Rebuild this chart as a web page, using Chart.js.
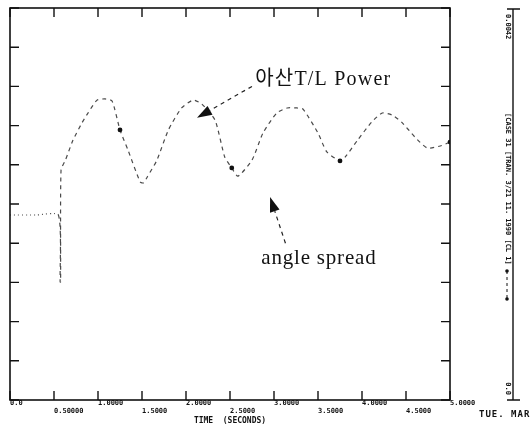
<!DOCTYPE html>
<html>
<head>
<meta charset="utf-8">
<script src="https://cdn.jsdelivr.net/npm/chart.js@4.4.1/dist/chart.umd.min.js"></script>
<style>
  html, body { margin: 0; padding: 0; background: #fff; }
  #wrap { width: 532px; height: 425px; }
</style>
</head>
<body>
<div id="wrap"><canvas id="simChart" width="532" height="425"></canvas></div>
<script>
// values (y in axis divisions, 0..10)
const timeSec = [0, 0.30, 0.55, 0.57, 0.575, 0.58, 0.63, 0.716, 0.818, 0.886, 0.989, 1.08, 1.16, 1.25, 1.34, 1.48, 1.52, 1.56, 1.67, 1.80, 1.95, 2.08, 2.18, 2.33, 2.44, 2.52, 2.59, 2.75, 2.875, 3.03, 3.15, 3.26, 3.33, 3.5, 3.6, 3.75, 3.81, 3.95, 4.11, 4.23, 4.34, 4.45, 4.6, 4.74, 4.89, 5.0];
const powerDiv = [4.72, 4.72, 4.72, 3.01, 3.01, 5.87, 6.12, 6.63, 7.07, 7.32, 7.65, 7.68, 7.63, 6.89, 6.38, 5.56, 5.54, 5.69, 6.12, 6.89, 7.45, 7.65, 7.55, 7.14, 6.20, 5.92, 5.71, 6.12, 6.81, 7.32, 7.45, 7.45, 7.42, 6.81, 6.33, 6.10, 6.20, 6.63, 7.09, 7.32, 7.27, 7.09, 6.71, 6.43, 6.48, 6.58];
const markerTimes = [1.25, 2.52, 3.75, 5.0];

const xTickLabels = ['0.0', '0.50000', '1.0000', '1.5000', '2.0000', '2.5000', '3.0000', '3.5000', '4.0000', '4.5000', '5.0000'];
const xTitle = 'TIME  (SECONDS)';
const rightAxisLabels = ['0.0', '0.0042'];
const caseLabel = '[CASE 31 [TRAN. 3/21 11. 1990 [CL 1]';
const dateLabel = 'TUE. MAR';

// annotations: text, text position, arrow tail, arrow tip (in data units)
const noteText = ['아산T/L Power', 'angle spread'];
const noteAt = [[3.56, 8.16], [3.51, 3.6]];
const noteTail = [[2.75, 8.0], [3.13, 4.0]];
const noteTip = [[2.125, 7.2], [2.955, 5.18]];

const frame = {
  id: 'frame',
  afterDatasetsDraw(chart) {
    const { ctx, chartArea: a, scales: { x, y } } = chart;
    const tick = 9;
    ctx.save();
    ctx.strokeStyle = '#111';
    ctx.lineWidth = 1.6;
    ctx.strokeRect(a.left, a.top, a.right - a.left, a.bottom - a.top);
    ctx.lineWidth = 1.4;
    ctx.beginPath();
    x.ticks.forEach((t, i) => {
      const px = x.getPixelForTick(i);
      ctx.moveTo(px, a.top); ctx.lineTo(px, a.top + tick);
      ctx.moveTo(px, a.bottom); ctx.lineTo(px, a.bottom - tick);
    });
    for (let v = y.min; v <= y.max; v += 1) {
      const py = y.getPixelForValue(v);
      ctx.moveTo(a.left, py); ctx.lineTo(a.left + tick, py);
      ctx.moveTo(a.right, py); ctx.lineTo(a.right - tick, py);
    }
    ctx.stroke();
    ctx.restore();
  }
};

const notes = {
  id: 'notes',
  afterDatasetsDraw(chart) {
    const { ctx, scales: { x, y } } = chart;
    ctx.save();
    ctx.fillStyle = '#111';
    ctx.strokeStyle = '#222';
    noteText.forEach((txt, i) => {
      ctx.font = i === 0 ? '20px "Liberation Serif", "Noto Sans CJK KR", serif' : '21px "Liberation Serif", serif';
      ctx.letterSpacing = i === 0 ? '1.2px' : '0.8px';
      ctx.textAlign = 'center';
      ctx.textBaseline = 'middle';
      ctx.fillText(txt, x.getPixelForValue(noteAt[i][0]), y.getPixelForValue(noteAt[i][1]));

      const tx = x.getPixelForValue(noteTail[i][0]), ty = y.getPixelForValue(noteTail[i][1]);
      const hx = x.getPixelForValue(noteTip[i][0]), hy = y.getPixelForValue(noteTip[i][1]);
      const ang = Math.atan2(hy - ty, hx - tx);
      const len = 15, half = 5;
      const bx = hx - len * Math.cos(ang), by = hy - len * Math.sin(ang);
      ctx.lineWidth = 1.2;
      ctx.setLineDash([4, 4]);
      ctx.beginPath();
      ctx.moveTo(tx, ty); ctx.lineTo(bx, by);
      ctx.stroke();
      ctx.setLineDash([]);
      ctx.beginPath();
      ctx.moveTo(hx, hy);
      ctx.lineTo(bx + half * Math.sin(ang), by - half * Math.cos(ang));
      ctx.lineTo(bx - half * Math.sin(ang), by + half * Math.cos(ang));
      ctx.closePath();
      ctx.fill();
    });
    ctx.restore();
  }
};

const sidePanel = {
  id: 'sidePanel',
  afterDraw(chart) {
    const { ctx, chartArea: a, scales: { y } } = chart;
    const lx = a.right + 63;
    const top = y.getPixelForValue(y.max) + 1, bot = y.getPixelForValue(y.min);
    ctx.save();
    ctx.strokeStyle = '#111';
    ctx.fillStyle = '#111';
    ctx.lineWidth = 1.4;
    ctx.beginPath();
    ctx.moveTo(lx, top); ctx.lineTo(lx, bot);
    ctx.moveTo(lx - 6, top); ctx.lineTo(lx + 7, top);
    ctx.moveTo(lx - 6, bot); ctx.lineTo(lx + 7, bot);
    ctx.stroke();

    // rotated labels, read top to bottom
    ctx.font = 'bold 7px "DejaVu Sans Mono", monospace';
    ctx.textBaseline = 'middle';
    const vert = (txt, cy, align) => {
      ctx.save();
      ctx.translate(lx - 5, cy);
      ctx.rotate(Math.PI / 2);
      ctx.textAlign = align;
      ctx.fillText(txt, 0, 0);
      ctx.restore();
    };
    vert(rightAxisLabels[1], top + 5, 'left');
    vert(rightAxisLabels[0], bot - 5, 'right');
    vert(caseLabel, top + 104, 'left');

    // curve key
    ctx.lineWidth = 1;
    ctx.setLineDash([3, 3]);
    ctx.beginPath();
    ctx.moveTo(lx - 6, top + 262); ctx.lineTo(lx - 6, top + 290);
    ctx.stroke();
    ctx.setLineDash([]);
    [top + 262, top + 290].forEach(py => {
      ctx.beginPath(); ctx.arc(lx - 6, py, 1.8, 0, Math.PI * 2); ctx.fill();
    });

    ctx.font = 'bold 9px "DejaVu Sans Mono", monospace';
    ctx.letterSpacing = '1px';
    ctx.textAlign = 'left';
    ctx.fillText(dateLabel, lx - 34, bot + 15);
    ctx.restore();
  }
};

const ctx = document.getElementById('simChart').getContext('2d');
window.simChart = new Chart(ctx, {
  type: 'line',
  data: {
    datasets: [{
      label: 'power',
      data: timeSec.map((t, i) => ({ x: t, y: powerDiv[i] })),
      borderColor: '#4a4a4a',
      borderWidth: 1.2,
      borderDash: [4, 4],
      tension: 0.2,
      pointRadius: c => markerTimes.includes(c.raw && c.raw.x) ? 2.4 : 0,
      pointBackgroundColor: '#111',
      pointBorderWidth: 0,
      segment: {
        borderDash: c => c.p1.parsed.x <= 0.55 ? [1, 3] : [4, 4]
      }
    }]
  },
  options: {
    responsive: false,
    animation: false,
    devicePixelRatio: 1,
    layout: { padding: { left: 10, top: 8, right: 82, bottom: 0 } },
    plugins: { legend: { display: false }, tooltip: { enabled: false } },
    scales: {
      x: {
        type: 'linear',
        min: 0,
        max: 5,
        border: { display: false },
        grid: { display: false, drawTicks: false },
        afterFit: s => { s.height = 25; },
        ticks: {
          stepSize: 0.5,
          align: 'start',
          padding: 0,
          color: '#111',
          font: { family: 'DejaVu Sans Mono', size: 7, weight: 'bold', lineHeight: 1.05 },
          maxRotation: 0,
          autoSkip: false,
          callback: (v, i) => i % 2 === 0 ? [xTickLabels[i], ''] : ['', xTickLabels[i]]
        },
        title: {
          display: true,
          text: xTitle,
          color: '#111',
          padding: { top: 0, bottom: 0 },
          font: { family: 'DejaVu Sans Mono', size: 8, weight: 'bold', lineHeight: 1.0 }
        }
      },
      y: {
        display: false,
        min: 0,
        max: 10
      }
    }
  },
  plugins: [frame, notes, sidePanel]
});
</script>
</body>
</html>
